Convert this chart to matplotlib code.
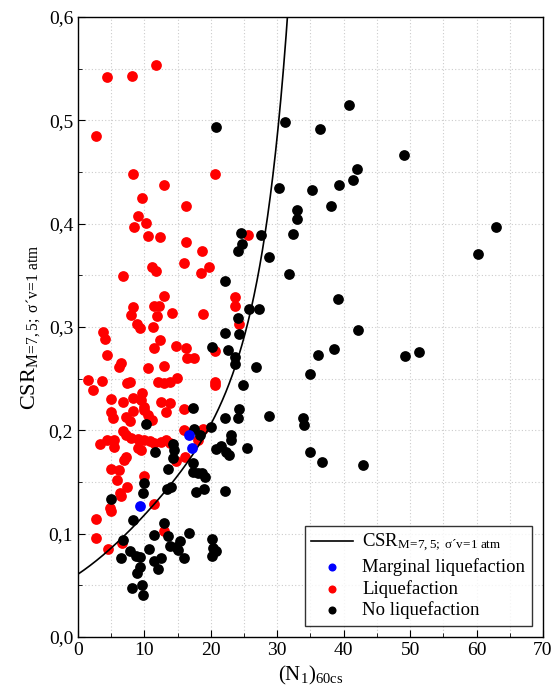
import numpy as np
import matplotlib
matplotlib.use("Agg")
import matplotlib.pyplot as plt
from matplotlib.ticker import MultipleLocator, FuncFormatter

plt.rcParams['font.family'] = ['Liberation Serif', 'DejaVu Serif']
plt.rcParams['mathtext.fontset'] = 'custom'
plt.rcParams['mathtext.rm'] = 'Liberation Serif'
plt.rcParams['mathtext.it'] = 'Liberation Serif:italic'

# ---- data ----
marginal_x = [16.7, 17.2, 9.4]
marginal_y = [0.195, 0.183, 0.127]

liq_x = [11.8, 4.4, 8.2, 2.7, 8.3, 20.7, 12.9, 9.7, 16.2, 9.1, 10.2, 8.5,
         10.5, 12.4, 16.2, 18.7, 16.0, 11.1, 11.8, 19.7, 18.5, 6.7,
         12.9, 23.6, 23.6, 8.3, 11.5, 12.2, 8.0, 11.9, 14.1, 18.8,
         8.9, 9.4, 11.3, 3.7, 4.0, 12.3, 11.5, 14.7, 16.2, 20.7,
         4.4, 16.4, 17.5, 25.6, 24.2,
         6.4, 6.1, 10.5, 12.9, 1.5, 3.6, 2.25, 7.4, 7.8, 12.0, 12.9, 13.9, 14.9, 20.6, 20.7,
         5.0, 6.7, 8.3, 9.6, 9.5, 9.9, 12.5, 13.9, 13.3, 15.9, 5.0, 5.3, 7.3, 8.3, 10.0,
         7.9, 10.5, 11.1, 18.8, 15.9, 18.0, 6.8, 7.3, 3.3, 4.4, 5.4, 5.4, 8.0, 9.0, 10.0,
         10.8, 11.4, 12.5, 13.3, 13.8, 9.0, 9.5, 7.3, 7.0, 16.1, 14.8, 5.0, 6.1, 10.0,
         5.9, 7.4, 6.3, 6.5, 4.85, 4.9, 11.4, 2.75, 12.9, 2.75, 6.6, 4.5]
liq_y = [0.554, 0.542, 0.543, 0.485, 0.448, 0.448, 0.437, 0.425, 0.417, 0.407, 0.401, 0.397,
         0.388, 0.387, 0.382, 0.374, 0.362, 0.358, 0.354, 0.358, 0.352, 0.349,
         0.330, 0.329, 0.320, 0.319, 0.320, 0.320, 0.312, 0.311, 0.314, 0.313,
         0.303, 0.299, 0.300, 0.295, 0.288, 0.287, 0.280, 0.282, 0.280, 0.277,
         0.273, 0.270, 0.270, 0.389, 0.303,
         0.265, 0.261, 0.260, 0.262, 0.249, 0.248, 0.239, 0.246, 0.247, 0.2465, 0.2455, 0.247, 0.251, 0.247, 0.244,
         0.230, 0.227, 0.231, 0.2365, 0.229, 0.223, 0.227, 0.226, 0.218, 0.221, 0.218, 0.212, 0.213, 0.219, 0.220,
         0.209, 0.215, 0.210, 0.201, 0.200, 0.191, 0.199, 0.195, 0.1865, 0.191, 0.191, 0.184, 0.193, 0.192, 0.191,
         0.190, 0.1875, 0.189, 0.191, 0.188, 0.183, 0.181, 0.1745, 0.171, 0.1745, 0.170, 0.163, 0.162, 0.156,
         0.152, 0.145, 0.139, 0.1365, 0.125, 0.122, 0.129, 0.114, 0.103, 0.096, 0.091, 0.0855]

noliq_x = [20.8, 31.1, 36.5, 30.3, 35.3, 39.3, 38.1, 32.9, 32.9, 24.6, 27.6, 32.3, 24.7, 24.1,
           28.7, 22.1, 31.8, 39.1, 25.7, 27.2, 24.1,
           22.1, 24.2, 20.1, 22.6, 23.6, 23.6, 26.8, 36.1, 38.6, 34.9, 24.8, 24.2, 22.1, 24.1,
           28.7, 33.9, 34.1, 20.0, 18.3, 23.1, 23.1, 20.8, 21.6, 22.3, 22.7, 25.5, 35.0, 36.8,
           18.6, 19.1, 18.9, 22.2, 20.2, 20.3, 20.8, 20.2,
           40.75, 49.1, 42.0, 41.4, 63.0, 60.3, 42.2, 49.2, 51.4, 42.9,
           17.3, 10.2, 17.5, 11.6, 14.3, 14.5, 14.3, 17.3, 13.5, 17.3, 18.0,
           10.0, 9.8, 4.9, 8.3, 12.9, 13.6, 11.5, 16.7, 6.8, 7.9, 8.8, 9.3, 10.7, 13.8, 14.8,
           15.4, 15.0, 16.0, 11.5, 12.5, 12.0, 6.4, 9.3, 8.9, 8.2, 9.6, 9.8, 17.7, 14.0, 13.4]
noliq_y = [0.494, 0.498, 0.492, 0.435, 0.433, 0.4375, 0.417, 0.413, 0.405, 0.391, 0.389, 0.390, 0.380, 0.374,
           0.368, 0.345, 0.351, 0.327, 0.317, 0.317, 0.3085,
           0.294, 0.293, 0.281, 0.278, 0.271, 0.264, 0.261, 0.273, 0.279, 0.255, 0.244, 0.221, 0.212, 0.212,
           0.214, 0.212, 0.205, 0.203, 0.1955, 0.195, 0.191, 0.182, 0.185, 0.179, 0.176, 0.183, 0.179, 0.169,
           0.159, 0.155, 0.143, 0.141, 0.0945, 0.086, 0.0835, 0.078,
           0.515, 0.466, 0.453, 0.442, 0.397, 0.371, 0.297, 0.272, 0.276, 0.166,
           0.222, 0.206, 0.201, 0.179, 0.187, 0.181, 0.173, 0.168, 0.163, 0.160, 0.1585,
           0.149, 0.139, 0.134, 0.113, 0.110, 0.098, 0.099, 0.101, 0.094, 0.083, 0.078, 0.077, 0.085, 0.088, 0.087,
           0.093, 0.084, 0.076, 0.074, 0.076, 0.0655, 0.076, 0.068, 0.062, 0.047, 0.050, 0.041, 0.140, 0.1455, 0.143]

# Boundary curve (Idriss & Boulanger form) coefficients
c1, c2, c3, c4, c0 = 14.1, 126.0, 23.6, 25.4, 2.8

csr_label = r"CSR$_{\mathrm{M\!=\!7,5;\ σ´v\!=\!1\ atm}}$"

fig = plt.figure(figsize=(5.54, 6.92), dpi=100)
ax = fig.add_axes([0.1408, 0.0795, 0.8392, 0.8959])

n = np.linspace(0, 34, 600)
crr = np.exp(n / c1 + (n / c2) ** 2 - (n / c3) ** 3 + (n / c4) ** 4 - c0)
mask = crr <= 0.62
ax.plot(n[mask], crr[mask], color='black', lw=1.2, zorder=5, label=csr_label)

ms = 60
ax.scatter(liq_x, liq_y, s=ms, color='#ff0000', zorder=3, linewidths=0, label='Liquefaction')
ax.scatter(noliq_x, noliq_y, s=ms, color='black', zorder=4, linewidths=0, label='No liquefaction')
ax.scatter(marginal_x, marginal_y, s=ms, color='#0000ff', zorder=6, linewidths=0, label='Marginal liquefaction')

ax.set_xlim(0, 70)
ax.set_ylim(0, 0.6)
ax.xaxis.set_major_locator(MultipleLocator(10))
ax.xaxis.set_minor_locator(MultipleLocator(5))
ax.yaxis.set_major_locator(MultipleLocator(0.1))
ax.yaxis.set_minor_locator(MultipleLocator(0.05))
ax.xaxis.set_major_formatter(FuncFormatter(lambda v, p: f"{v:.0f}"))
ax.yaxis.set_major_formatter(FuncFormatter(lambda v, p: f"{v:.1f}".replace('.', ',')))
ax.grid(True, which='both', color='#cccccc', linestyle=(0, (1, 2)), linewidth=0.8)
ax.set_axisbelow(True)
ax.tick_params(which='both', direction='in', labelsize=14)
ax.tick_params(which='major', length=5)
ax.tick_params(which='minor', length=3)
for s in ax.spines.values():
    s.set_linewidth(1.0)

ax.set_xlabel(r"(N$_{\mathrm{1}}$)$_{\mathrm{60cs}}$", fontsize=15, labelpad=4)
ax.set_ylabel(csr_label, fontsize=16, labelpad=5)

h, l = ax.get_legend_handles_labels()
order = [0, 3, 1, 2]
leg = ax.legend([h[i] for i in order], [l[i] for i in order], loc='lower right',
                fontsize=13.5, frameon=True, fancybox=False, edgecolor='black',
                markerscale=0.75, handlelength=2.2, borderaxespad=0.6,
                labelspacing=0.2, handletextpad=0.5, borderpad=0.35)
leg.get_frame().set_linewidth(1.0)

fig.savefig('out.png', dpi=100)
